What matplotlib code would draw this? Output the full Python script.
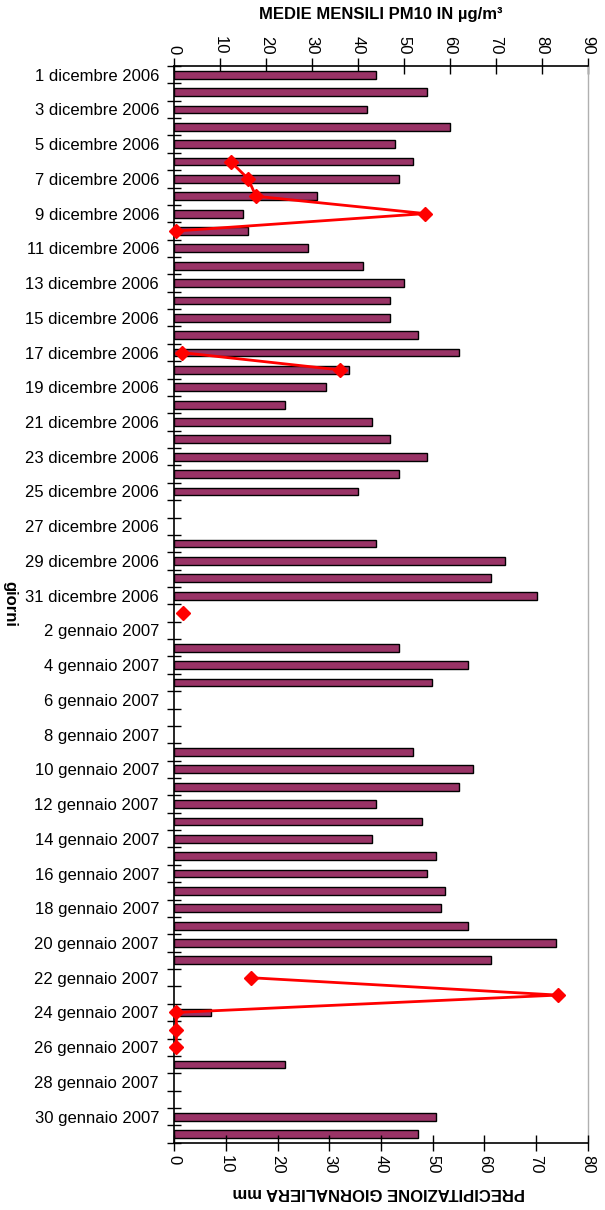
import numpy as np
import pandas as pd
import matplotlib
matplotlib.use("Agg")
import matplotlib.pyplot as plt

plt.rcParams["font.family"] = ["Liberation Sans", "DejaVu Sans"]

# giorni dal 1 dicembre 2006 al 31 gennaio 2007
days = pd.date_range("2006-12-01", "2007-01-31", freq="D")
month_names = {12: "dicembre", 1: "gennaio"}
day_labels = [f"{d.day} {month_names[d.month]} {d.year}" for d in days]

# media giornaliera PM10 (µg/m3), None = dato mancante
pm10 = [
    44, 55, 42, 60, 48, 52, 49, 31, 15, 16,
    29, 41, 50, 47, 47, 53, 62, 38, 33, 24,
    43, 47, 55, 49, 40, None, None, 44, 72, 69, 79,
    None, None, 49, 64, 56, None, None, None, 52, 65,
    62, 44, 54, 43, 57, 55, 59, 58, 64, 83,
    69, None, None, 8, None, None, 24, None, None, 57, 53,
]

# precipitazione giornaliera (mm)
rain = [
    None, None, None, None, None, 10.9, 14.3, 15.8, 48.6, 0.4,
    None, None, None, None, None, None, 1.4, 32.0, None, None,
    None, None, None, None, None, None, None, None, None, None, None,
    1.6, None, None, None, None, None, None, None, None, None,
    None, None, None, None, None, None, None, None, None, None,
    None, 14.8, 74.3, 0.4, 0.4, 0.4, None, None, None, None, None,
]

pm10_ticks = list(range(0, 91, 10))
rain_ticks = list(range(0, 81, 10))

pos = np.arange(len(days))
pm10_arr = np.array([np.nan if v is None else v for v in pm10], dtype=float)
rain_arr = np.array([np.nan if v is None else v for v in rain], dtype=float)

fig = plt.figure(figsize=(6.05, 12.1), dpi=100)
ax = fig.add_axes([174.3 / 605, 1 - 1142.7 / 1210, (587.7 - 174.3) / 605, (1142.7 - 66) / 1210])
ax2 = ax.twiny()

has_bar = ~np.isnan(pm10_arr)
ax.barh(pos[has_bar], pm10_arr[has_bar], height=0.45, color="#993366",
        edgecolor="black", linewidth=1.0, zorder=2)
ax.set_xlim(0, 90)
ax.set_ylim(len(days) - 0.5, -0.5)

# asse PM10 in alto
ax.xaxis.set_ticks_position("top")
ax.xaxis.set_label_position("top")
ax.set_xticks(pm10_ticks)
ax.tick_params(axis="x", direction="inout", length=11, width=1, pad=3,
               labelsize=12, labelrotation=-90)

# asse giorni: tacche tra un giorno e l'altro, etichette a giorni alterni
ax.set_yticks(np.arange(len(days) + 1) - 0.5)
ax.set_yticklabels([])
ax.tick_params(axis="y", which="major", direction="inout", length=10, width=1)
ax.set_yticks(pos[::2], minor=True)
ax.set_yticklabels(day_labels[::2], minor=True)
ax.tick_params(axis="y", which="minor", length=0, pad=11, labelsize=12)

for side in ("left", "top"):
    ax.spines[side].set_color("black")
    ax.spines[side].set_linewidth(1.2)
ax.spines["bottom"].set_visible(False)
ax.spines["right"].set_color("#b0b0b0")
ax.spines["right"].set_linewidth(1)

# precipitazione sull'asse secondario in basso
ax2.plot(rain_arr, pos, color="#ff0000", linewidth=2, marker="D",
         markersize=7, markeredgecolor="#ff0000", zorder=3, clip_on=False)
ax2.set_xlim(0, 80)
ax2.xaxis.set_ticks_position("bottom")
ax2.xaxis.set_label_position("bottom")
ax2.set_xticks(rain_ticks)
ax2.tick_params(axis="x", direction="inout", length=11, width=1, pad=3,
                labelsize=12, labelrotation=-90)
for side in ("left", "right", "top"):
    ax2.spines[side].set_visible(False)
ax2.spines["bottom"].set_color("black")
ax2.spines["bottom"].set_linewidth(1.2)

fig.text(381 / 605, 1 - 15 / 1210, "MEDIE MENSILI PM10 IN µg/m³",
         ha="center", va="center", fontsize=12, fontweight="bold")
fig.text(379 / 605, 1 - 1192 / 1210, "PRECIPITAZIONE GIORNALIERA mm",
         ha="center", va="center", fontsize=12, fontweight="bold", rotation=180)
fig.text(10 / 605, 1 - 604 / 1210, "giorni", ha="center", va="center",
         fontsize=12, fontweight="bold", rotation=-90)

fig.savefig("out.png", dpi=100)
